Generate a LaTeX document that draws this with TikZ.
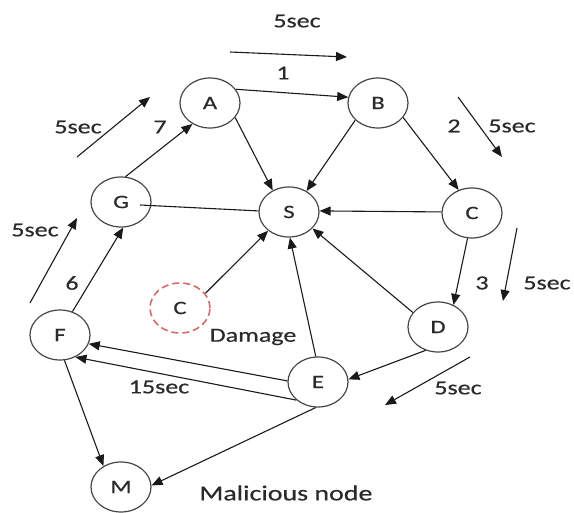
\documentclass[tikz,border=0pt]{standalone}
\usepackage{fontspec}
\newfontfamily\lblfont[FakeStretch=1.3,FakeBold=0.4]{Carlito}
\usetikzlibrary{shapes.geometric,arrows.meta,calc}
\definecolor{ink}{HTML}{1A1A1A}
\definecolor{txt}{HTML}{2A2A2A}
\definecolor{rim}{HTML}{454545}
\definecolor{dmg}{HTML}{D46A6A}
\tikzset{
  peer/.style={ellipse, draw=rim, line width=1.2pt, minimum width=60pt,
    minimum height=50pt, inner sep=0pt, text=txt,
    font=\lblfont\fontsize{19}{22}\selectfont},
  lost/.style={peer, draw=dmg, line width=1.6pt, dash pattern=on 7pt off 4pt},
  link/.style={draw=ink, line width=1.1pt, -{Triangle[length=11pt,width=9pt]}},
  plain/.style={draw=ink, line width=1.1pt},
  timer/.style={link},
  tag/.style={text=txt, inner sep=1pt, font=\lblfont\fontsize{20}{23}\selectfont}
}
\begin{document}
\begin{tikzpicture}[x=1pt,y=-1pt]
\useasboundingbox (0,0) rectangle (574,513);

% network nodes
\node[peer] (A) at (210,103) {A};
\node[peer] (B) at (378,103) {B};
\node[peer] (S) at (289,212) {S};
\node[peer] (C) at (472,213) {C};
\node[peer] (G) at (121,202) {G};
\node[peer] (F) at (60,335) {F};
\node[lost] (X) at (180,308) {C};
\node[peer] (D) at (438,327) {D};
\node[peer] (E) at (318,382) {E};
\node[peer] (M) at (121,487) {M};

% links between nodes
\draw[link] (A.28) -- (B.169);
\draw[link] (A.-30) -- (S.127);
\draw[link] (B.217) -- (S.50);
\draw[link] (B.-30) -- (C.120);
\draw[link] (C.178) -- (S.2);
\draw[plain] ([xshift=19pt,yshift=-3pt]G.center) -- (S.178);
\draw[link] (G.80) -- (A.230);
\draw[link] (F.62) -- (G.-85);
\draw[link] (X.30) -- (S.222);
\draw[link] (E.95) -- (S.-88);
\draw[link] (D.150) -- (S.-35);
\draw[link] (C.-100) -- (D.55);
\draw[link] (D.-118) -- (E.5);
\draw[link] (E.178) -- (F.-17);
\draw[link] (E.220) -- (F.-55);
\draw[link] (E.-95) -- (M.3);
\draw[link] (F.-80) -- (M.130);

% timing arrows
\coordinate (t1a) at (230,52);  \coordinate (t1b) at (347,57);
\coordinate (t2a) at (458,97);  \coordinate (t2b) at (502,157);
\coordinate (t3a) at (517,228); \coordinate (t3b) at (503,301);
\coordinate (t4a) at (470,357); \coordinate (t4b) at (385,405);
\coordinate (t6a) at (30,303);  \coordinate (t6b) at (77,218);
\coordinate (t7a) at (77,157);  \coordinate (t7b) at (150,97);
\draw[timer] (t1a) -- (t1b);
\draw[timer] (t2a) -- (t2b);
\draw[timer] (t3a) -- (t3b);
\draw[timer] (t4a) -- (t4b);
\draw[timer] (t6a) -- (t6b);
\draw[timer] (t7a) -- (t7b);

% labels
\node[tag] (l5a) at (297,21) {5sec};
\node[tag] (n1) at (283,73) {1};
\node[tag] (l5b) at (78,127) {5sec};
\node[tag] (n7) at (160,127) {7};
\node[tag] (n2) at (454,126) {2};
\node[tag] (l5c) at (512,126) {5sec};
\node[tag] (l5d) at (35,230) {5sec};
\node[tag] (n6) at (72,283) {6};
\node[tag] (n3) at (482,283) {3};
\node[tag] (l5e) at (547,283) {5sec};
\node[tag] (l5f) at (458,388) {5sec};
\node[tag] (l15) at (159,387) {15sec};
\node[tag] (dam) at (253,337) {Damage};
\node[tag, font=\lblfont\fontsize{21.5}{24}\selectfont] (mal) at (286,493) {Malicious node};
\end{tikzpicture}
\end{document}
